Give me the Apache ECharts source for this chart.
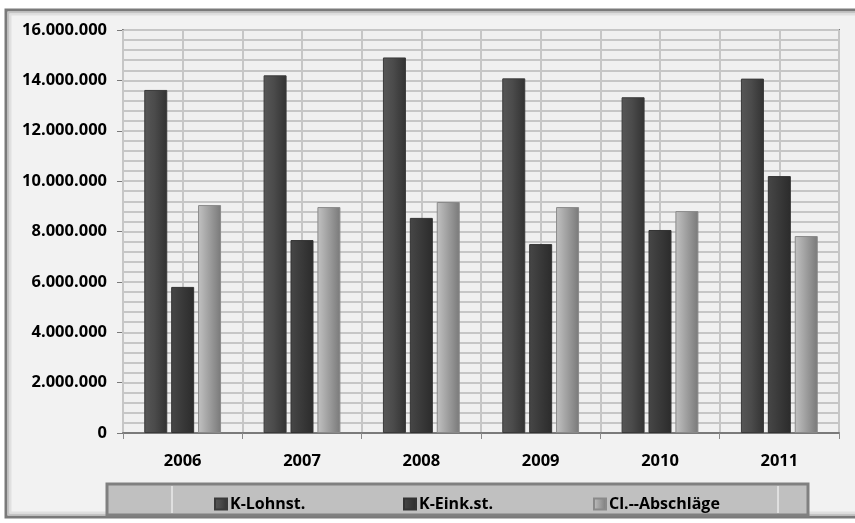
<!DOCTYPE html>
<html>
<head>
<meta charset="utf-8">
<script src="https://cdn.jsdelivr.net/npm/echarts@6/dist/echarts.min.js"></script>
<style>
  html, body { margin: 0; padding: 0; background: #ffffff; }
  #chart { width: 855px; height: 523px; }
</style>
</head>
<body>
<div id="chart"></div>
<script>
// Jahre und Beträge je Kategorie
const years = ['2006', '2007', '2008', '2009', '2010', '2011'];
const lohnst = [13620000, 14200000, 14910000, 14080000, 13330000, 14070000];
const einkst = [5800000, 7660000, 8540000, 7500000, 8060000, 10200000];
const abschlaege = [9050000, 8970000, 9170000, 8970000, 8810000, 7820000];
const seriesNames = ['K-Lohnst.', 'K-Eink.st.', 'Cl.--Abschläge'];

const FONT = '"Open Sans", "DejaVu Sans", sans-serif';

function grad(stops) {
  return new echarts.graphic.LinearGradient(0, 0, 1, 0,
    stops.map(function (s) { return { offset: s[0], color: s[1] }; }));
}

const barColors = [
  grad([[0, '#575757'], [0.45, '#4b4b4b'], [1, '#323232']]),
  grad([[0, '#474747'], [1, '#2b2b2b']]),
  grad([[0, '#c2c2c2'], [1, '#797979']])
];
const barBorders = ['#3a3a3a', '#333333', '#8a8a8a'];

function fmt(v) {
  return String(v).replace(/\B(?=(\d{3})+(?!\d))/g, '.');
}

const chart = echarts.init(document.getElementById('chart'), null, { renderer: 'canvas' });

const legendLeft = [209, 398, 588];

chart.setOption({
  backgroundColor: '#ffffff',
  animation: false,
  graphic: [
    // äußerer Rahmen mit leichtem Innenschatten
    { type: 'rect', z: -10, shape: { x: 6, y: 10, width: 870, height: 507 },
      style: { fill: '#f2f2f2', stroke: '#7a7a7a', lineWidth: 3 } },
    { type: 'rect', z: -9, shape: { x: 8.5, y: 12.5, width: 870, height: 502 },
      style: { fill: null, stroke: '#c4c4c4', lineWidth: 2 } },
    { type: 'rect', z: -9, shape: { x: 10.5, y: 14.5, width: 870, height: 498 },
      style: { fill: null, stroke: '#e0e0e0', lineWidth: 2 } },
    // Legendenkasten
    { type: 'rect', z: 1, shape: { x: 107, y: 484, width: 701, height: 31 },
      style: { fill: '#c0c0c0', stroke: '#808080', lineWidth: 3 } },
    { type: 'line', z: 2, shape: { x1: 172, y1: 486, x2: 172, y2: 513 },
      style: { stroke: '#ffffff', lineWidth: 1 } },
    { type: 'line', z: 2, shape: { x1: 778, y1: 486, x2: 778, y2: 513 },
      style: { stroke: '#ffffff', lineWidth: 1 } }
  ],
  legend: seriesNames.map(function (name, i) {
    return {
      data: [name],
      left: legendLeft[i],
      top: 491,
      itemWidth: 12,
      itemHeight: 11,
      itemGap: 4,
      icon: 'rect',
      selectedMode: false,
      textStyle: { fontFamily: FONT, fontWeight: 'bold', fontSize: 16, color: '#000', padding: [0, 0, 0, -2] },
      z: 5
    };
  }),
  grid: {
    left: 123, right: 16, top: 30, bottom: 90,
    show: true,
    backgroundColor: '#f0f0f0',
    borderColor: '#7a7a7a',
    borderWidth: 2
  },
  xAxis: [
    {
      type: 'category',
      data: years,
      boundaryGap: true,
      axisLine: { show: true, lineStyle: { color: '#7a7a7a', width: 2 } },
      axisTick: { show: true, length: 6, lineStyle: { color: '#8a8a8a', width: 1 } },
      axisLabel: { fontFamily: FONT, fontWeight: 'bold', fontSize: 16.5, color: '#000', margin: 20 },
      splitLine: { show: true, lineStyle: { color: '#c6c6c6', width: 2 } },
      z: 3
    },
    {
      // Hilfsachse für die Gitterlinien in der Mitte jeder Kategorie
      type: 'value',
      min: 0, max: 12, interval: 1,
      position: 'bottom',
      axisLine: { show: false },
      axisTick: { show: false },
      axisLabel: { show: false },
      splitLine: { show: true, lineStyle: { color: '#c6c6c6', width: 2 } }
    }
  ],
  yAxis: {
    type: 'value',
    min: 0, max: 16000000, interval: 2000000,
    axisLine: { show: true, lineStyle: { color: '#7a7a7a', width: 2 } },
    axisTick: { show: true, length: 6, lineStyle: { color: '#7a7a7a', width: 1 } },
    axisLabel: { fontFamily: FONT, fontWeight: 'bold', fontSize: 16.5, color: '#000', margin: 16, formatter: fmt },
    splitLine: { show: true, lineStyle: { color: '#c6c6c6', width: 2 } },
    minorTick: { show: false, splitNumber: 5 },
    minorSplitLine: { show: true, lineStyle: { color: '#c6c6c6', width: 2 } }
  },
  series: [lohnst, einkst, abschlaege].map(function (vals, i) {
    return {
      name: seriesNames[i],
      type: 'bar',
      xAxisIndex: 0,
      data: vals,
      barWidth: 23,
      barGap: '17%',
      itemStyle: { color: barColors[i], borderColor: barBorders[i], borderWidth: 1 },
      z: 4
    };
  })
});
</script>
</body>
</html>
